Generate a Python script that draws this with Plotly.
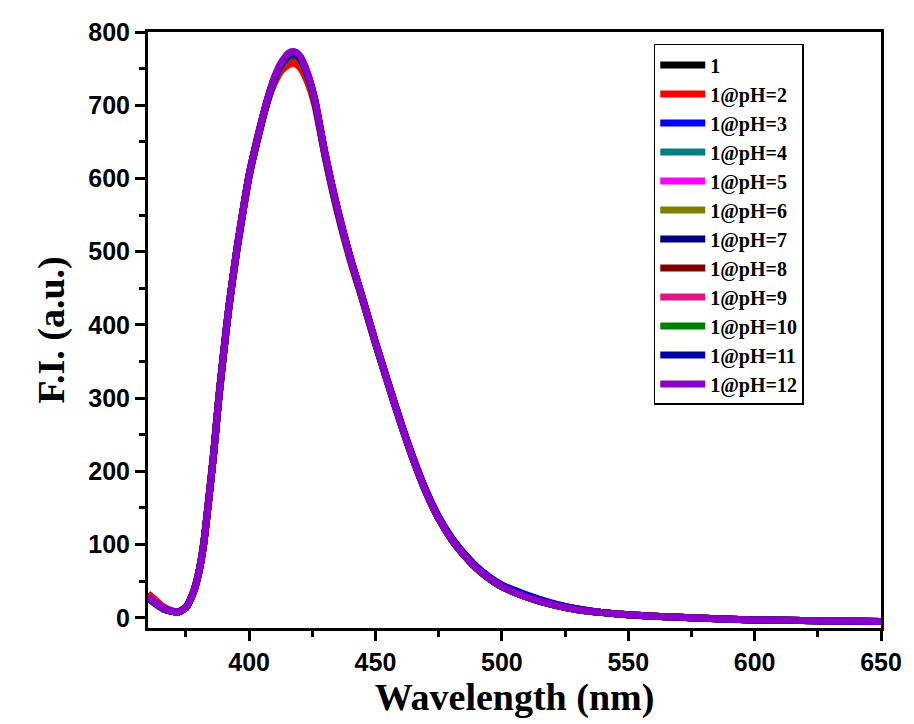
import plotly.graph_objects as go

wavelength = [360, 363, 366, 369, 372, 375, 378, 380, 382, 384, 386, 388, 390, 392, 395, 398, 400,
              403, 407, 410, 413, 416, 418, 420, 423, 426,
              430, 435, 440, 445, 450, 455, 460, 465, 470, 475, 480, 485, 490, 495, 500,
              510, 520, 530, 540, 550, 560, 575, 600, 625, 650]

names = ["1", "1@pH=2", "1@pH=3", "1@pH=4", "1@pH=5", "1@pH=6", "1@pH=7",
         "1@pH=8", "1@pH=9", "1@pH=10", "1@pH=11", "1@pH=12"]
colors = ["#000000", "#FF0000", "#0000FF", "#008080", "#FF00FF", "#808000", "#000080",
          "#800000", "#E0157F", "#008000", "#0000A8", "#8B00C8"]

fi_1 = [27, 19, 12, 9, 8, 14, 35, 60, 100, 160, 224, 298, 362, 422, 497, 562, 602,
        648, 702, 733, 754, 764, 765, 760, 740, 705,
        633, 556, 491, 434, 375, 319, 265, 215, 171, 135, 107, 85, 67, 53, 42,
        28, 18, 11, 7, 4, 2, 0, -3, -4, -5]
fi_ph2 = [33, 24, 15, 10, 8, 14, 36, 62, 103, 164, 228, 302, 366, 425, 500, 565, 604,
          652, 703, 730, 748, 756, 757, 752, 733, 700,
          630, 553, 488, 432, 374, 319, 266, 216, 173, 137, 109, 87, 69, 55, 44,
          30, 19, 12, 7, 4, 2, 0, -3, -4, -5]
fi_ph3 = [28, 20, 13, 9, 8, 14, 35, 60, 100, 160, 225, 300, 364, 424, 499, 564, 604,
          650, 704, 735, 757, 768, 769, 764, 742, 706,
          634, 557, 491, 434, 376, 321, 267, 218, 174, 138, 110, 88, 70, 56, 45,
          31, 20, 12, 7, 4, 2, 0, -3, -4, -5]
fi_ph4 = [28, 20, 13, 9, 8, 14, 35, 60, 100, 160, 225, 300, 364, 424, 499, 564, 604,
          649, 703, 734, 755, 766, 767, 762, 741, 705,
          633, 556, 491, 434, 375, 320, 266, 216, 172, 136, 108, 86, 68, 54, 43,
          28, 18, 11, 7, 4, 2, 0, -3, -4, -5]
fi_ph5 = [29, 21, 13, 9, 8, 14, 35, 60, 100, 160, 225, 300, 365, 425, 500, 565, 605,
          650, 705, 737, 759, 771, 772, 767, 744, 707,
          635, 558, 492, 435, 376, 320, 266, 216, 172, 136, 108, 86, 68, 54, 43,
          28, 18, 11, 7, 4, 2, 0, -3, -4, -5]
fi_ph6 = [27, 19, 12, 9, 8, 14, 35, 60, 100, 160, 225, 300, 364, 424, 499, 564, 604,
          649, 703, 734, 756, 767, 768, 763, 741, 705,
          633, 556, 491, 434, 375, 320, 266, 216, 172, 136, 108, 86, 68, 54, 43,
          28, 18, 11, 7, 4, 2, 0, -3, -4, -5]
fi_ph7 = [28, 20, 13, 9, 8, 14, 35, 60, 100, 160, 225, 300, 365, 425, 500, 565, 605,
          650, 704, 736, 758, 769, 770, 765, 743, 706,
          634, 557, 492, 435, 376, 320, 266, 216, 172, 136, 108, 86, 68, 54, 43,
          28, 18, 11, 7, 4, 2, 0, -3, -4, -5]
fi_ph8 = [28, 20, 13, 9, 8, 14, 35, 60, 100, 160, 225, 300, 364, 424, 499, 564, 604,
          649, 703, 735, 756, 767, 768, 763, 742, 705,
          633, 556, 491, 434, 375, 320, 266, 216, 172, 136, 108, 86, 68, 54, 43,
          28, 18, 11, 7, 4, 2, 0, -3, -4, -5]
fi_ph9 = [30, 21, 13, 9, 8, 14, 35, 60, 100, 160, 225, 300, 365, 425, 500, 565, 605,
          650, 705, 737, 758, 770, 771, 766, 744, 707,
          634, 557, 492, 435, 376, 320, 266, 216, 172, 136, 108, 86, 68, 54, 43,
          29, 19, 12, 7, 4, 2, 0, -3, -4, -5]
fi_ph10 = [27, 19, 12, 9, 8, 14, 35, 60, 100, 160, 225, 300, 364, 424, 499, 564, 604,
           649, 703, 735, 757, 768, 769, 764, 742, 706,
           634, 557, 491, 434, 375, 320, 266, 216, 172, 136, 108, 86, 68, 54, 43,
           28, 18, 11, 7, 4, 2, 0, -3, -4, -5]
fi_ph11 = [28, 20, 13, 9, 8, 14, 35, 60, 100, 160, 225, 300, 365, 425, 500, 565, 605,
           650, 704, 736, 758, 769, 770, 765, 743, 707,
           634, 557, 492, 435, 376, 321, 267, 217, 173, 137, 109, 87, 69, 55, 44,
           30, 19, 12, 7, 4, 2, 0, -3, -4, -5]
fi_ph12 = [28, 20, 13, 9, 8, 14, 35, 60, 100, 160, 225, 300, 365, 425, 500, 565, 605,
           650, 705, 738, 760, 772, 773, 768, 745, 708,
           635, 558, 492, 435, 376, 320, 266, 216, 172, 136, 108, 86, 68, 54, 43,
           28, 18, 11, 7, 4, 2, 0, -3, -4, -5]

series = [fi_1, fi_ph2, fi_ph3, fi_ph4, fi_ph5, fi_ph6, fi_ph7,
          fi_ph8, fi_ph9, fi_ph10, fi_ph11, fi_ph12]

x_ticks = [400, 450, 500, 550, 600, 650]
y_ticks = [0, 100, 200, 300, 400, 500, 600, 700, 800]

fig = go.Figure()
for name, color, ys in zip(names, colors, series):
    fig.add_trace(go.Scatter(x=wavelength, y=ys, name=name, mode="lines",
                             line=dict(color=color, width=7, shape="spline", smoothing=0.6)))

tickfont = dict(family="Liberation Sans", size=25, color="black", weight="bold")
titlefont = dict(family="Liberation Serif", size=38, color="black", weight="bold")

fig.update_layout(
    width=914, height=724,
    margin=dict(l=148, r=31, t=32, b=96),
    paper_bgcolor="white", plot_bgcolor="white",
    showlegend=True,
    legend=dict(x=0.69, y=0.98, xanchor="left", yanchor="top",
                bordercolor="black", borderwidth=1.5, bgcolor="white",
                font=dict(family="Liberation Serif", size=20, color="black", weight="bold"),
                itemwidth=45, tracegroupgap=0),
    xaxis=dict(range=[360, 650], tickvals=x_ticks, ticktext=[str(v) for v in x_ticks],
               showgrid=False, zeroline=False, showline=True, linecolor="black", linewidth=3,
               mirror=True, ticks="outside", ticklen=10, tickwidth=2.5, tickcolor="black",
               minor=dict(ticks="outside", ticklen=6, tickwidth=2.5, tickcolor="black",
                          tickvals=[375, 425, 475, 525, 575, 625]),
               tickfont=tickfont,
               title=dict(text="Wavelength (nm)", font=titlefont, standoff=4)),
    yaxis=dict(range=[-14, 800], tickvals=y_ticks, ticktext=[str(v) for v in y_ticks],
               showgrid=False, zeroline=False, showline=True, linecolor="black", linewidth=3,
               mirror=True, ticks="outside", ticklen=10, tickwidth=2.5, tickcolor="black",
               minor=dict(ticks="outside", ticklen=6, tickwidth=2.5, tickcolor="black",
                          tickvals=[50, 150, 250, 350, 450, 550, 650, 750]),
               tickfont=tickfont,
               title=dict(text="F.I. (a.u.)", font=titlefont, standoff=12)),
)

fig.write_html("out.html")
